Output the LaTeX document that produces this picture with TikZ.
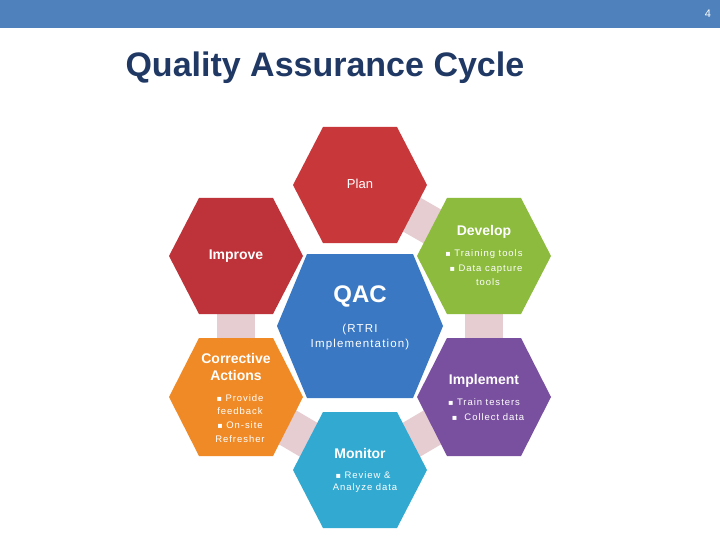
\documentclass[tikz,border=0pt]{standalone}
\usepackage{fontspec}
\setmainfont{Liberation Sans}
\newfontfamily\spaced[LetterSpace=10]{Liberation Sans}
\newfontfamily\dv{DejaVu Sans}
\definecolor{hdr}{HTML}{4F81BD}
\definecolor{ttl}{HTML}{1F3864}
\definecolor{cPlan}{HTML}{C8383B}
\definecolor{cImp}{HTML}{BE3339}
\definecolor{cDev}{HTML}{8CBB3D}
\definecolor{cCor}{HTML}{F08A26}
\definecolor{cImpl}{HTML}{7950A0}
\definecolor{cMon}{HTML}{31A9D1}
\definecolor{cQac}{HTML}{3A78C3}
\definecolor{pinkc}{HTML}{E6CDD1}
\newcommand{\hexa}[6]{\fill[#6] (#1-#3,#2) -- (#1-#4,#2-#5) -- (#1+#4,#2-#5) -- (#1+#3,#2) -- (#1+#4,#2+#5) -- (#1-#4,#2+#5) -- cycle;}
\newcommand{\bul}{{\dv\fontsize{8}{8}\selectfont ▪}\ }
\tikzset{ttext/.style={text=white,font=\fontsize{14}{14}\selectfont\bfseries},
btext/.style={text=white,font=\spaced\fontsize{9.5}{9.5}\selectfont},
conn/.style={pinkc,line width=38pt}}
\begin{document}
\begin{tikzpicture}[x=1pt,y=-1pt]
\useasboundingbox (0,0) rectangle (720,540);
\fill[white] (0,0) rectangle (720,540);
\fill[hdr] (0,0) rectangle (720,28);
\node[text=white,font=\fontsize{11}{11}\selectfont] (pg) at (708,14) {4};
\node[text=ttl,anchor=west,font=\fontsize{34}{34}\selectfont\bfseries] (title) at (122,68) {Quality Assurance Cycle};
\coordinate (plan) at (360,185);
\coordinate (improve) at (236,256);
\coordinate (develop) at (484,256);
\coordinate (corr) at (236,397);
\coordinate (impl) at (484,397);
\coordinate (mon) at (360,470);
\coordinate (qac) at (360,326);
\draw[conn] (plan) -- (develop);
\draw[conn] (develop) -- (impl);
\draw[conn] (impl) -- (mon);
\draw[conn] (mon) -- (corr);
\draw[conn] (corr) -- (improve);
\hexa{360}{185}{67}{37}{58}{cPlan}
\hexa{236}{256}{67}{37}{58}{cImp}
\hexa{484}{256}{67}{37}{58}{cDev}
\hexa{236}{397}{67}{37}{59}{cCor}
\hexa{484}{397}{67}{37}{59}{cImpl}
\hexa{360}{470}{67}{37}{58}{cMon}
\hexa{360}{326}{83}{53}{72}{cQac}
\node[ttext,font=\fontsize{13}{13}\selectfont] (tplan) at (360,184) {Plan};
\node[ttext] (timp) at (236,256) {Improve};
\node[ttext] (tdev) at (484,232) {Develop};
\node[btext] (d1) at (484,254) {\bul Training tools};
\node[btext] (d2) at (486,269) {\bul Data capture};
\node[btext] (d3) at (488,282) {tools};
\node[text=white,font=\fontsize{24}{24}\selectfont\bfseries] (tqac) at (360,296) {QAC};
\node[text=white,font=\spaced\fontsize{11.5}{11.5}\selectfont] (q1) at (360,330) {(RTRI};
\node[text=white,font=\spaced\fontsize{11.5}{11.5}\selectfont] (q2) at (360,345) {Implementation)};
\node[ttext] (tc1) at (236,358) {Corrective};
\node[ttext] (tc2) at (236,375) {Actions};
\node[btext] (c1) at (240,398) {\bul Provide};
\node[btext] (c2) at (240,411) {feedback};
\node[btext] (c3) at (240,425) {\bul On-site};
\node[btext] (c4) at (240,439) {Refresher};
\node[ttext] (timpl) at (484,381) {Implement};
\node[btext] (i1) at (484,402) {\bul Train testers};
\node[btext] (i2) at (488,417) {\bul\ Collect data};
\node[ttext] (tmon) at (360,453) {Monitor};
\node[btext] (m1) at (363,475) {\bul Review \&};
\node[btext] (m2) at (365,488) {Analyze data};
\end{tikzpicture}
\end{document}
